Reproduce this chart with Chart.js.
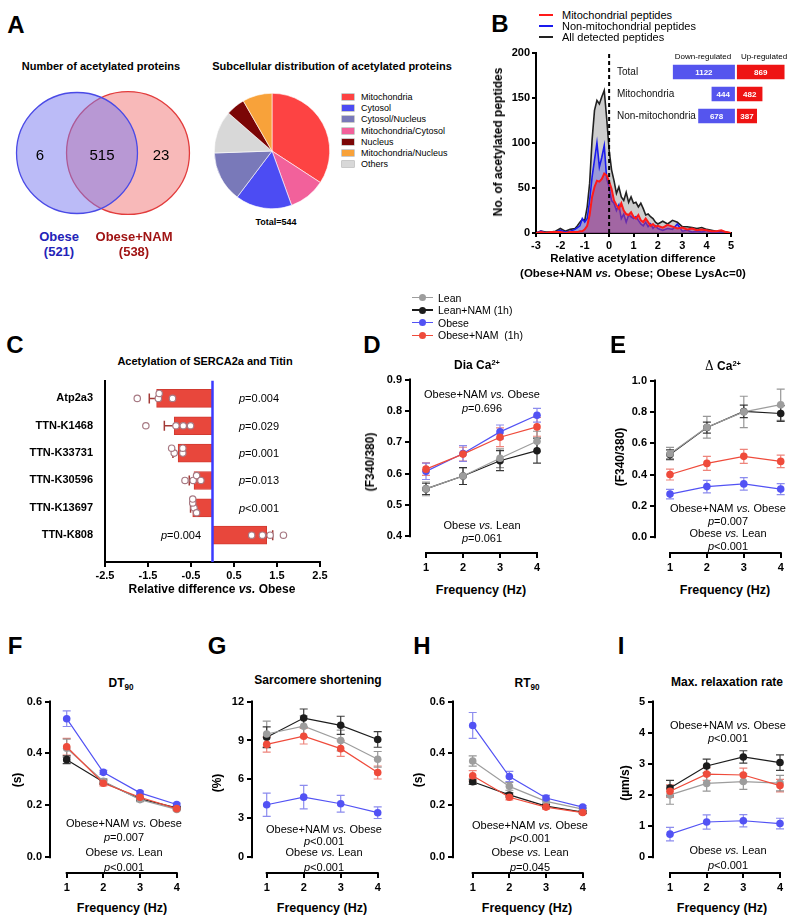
<!DOCTYPE html>
<html>
<head>
<meta charset="utf-8">
<script src="https://cdn.jsdelivr.net/npm/chart.js@4.4.1/dist/chart.umd.min.js"></script>
<style>
body { margin:0; background:#fff; }
#fig { position:relative; width:800px; height:921px; overflow:hidden; font-family:'Liberation Sans', Arial, sans-serif; color:#000; }
#fig canvas { position:absolute; }
.t, .tl, .tr { position:absolute; white-space:pre; line-height:1; z-index:2; }
.t { transform:translate(-50%,-50%); }
.tl { transform:translate(0,-50%); }
.tr { transform:translate(-50%,-50%) rotate(-90deg); }
.b { font-weight:bold; }
sup { font-size:0.62em; vertical-align:0.6em; line-height:0; }
sub { font-size:0.68em; vertical-align:-0.35em; line-height:0; }
.letter { font-size:24px; font-weight:bold; }
.ann { font-size:11px; }
.sw { position:absolute; z-index:2; }
</style>
</head>
<body>
<div id="fig"></div>
<script>
// ---------- A ----------
const vennSets = ['Obese', 'Obese+NAM'];
const vennTotals = [521, 538];
const vennOnly = [6, 23];
const vennShared = 515;

// pie, in drawing order (clockwise from 12 o'clock)
const pieLabels = ['Mitochondria', 'Mitochondria/Cytosol', 'Cytosol', 'Cytosol/Nucleus', 'Others', 'Nucleus', 'Mitochondria/Nucleus'];
const pieCounts = [186, 56, 86, 77, 65, 29, 45];
const pieLegend = ['Mitochondria', 'Cytosol', 'Cytosol/Nucleus', 'Mitochondria/Cytosol', 'Nucleus', 'Mitochondria/Nucleus', 'Others'];

// ---------- B ----------
const histX = [-3,-2.8,-2.6,-2.4,-2.2,-2,-1.8,-1.6,-1.4,-1.3,-1.2,-1.1,-1,-0.9,-0.8,-0.7,-0.6,-0.5,-0.4,-0.3,-0.2,-0.1,0,0.1,0.2,0.3,0.4,0.5,0.6,0.7,0.8,0.9,1,1.1,1.2,1.3,1.4,1.5,1.6,1.7,1.8,1.9,2,2.2,2.4,2.6,2.8,3,3.2,3.4,3.6,3.8,4,4.2,4.4,4.6,4.8,5];
const histAll = [0,2,1,1,2,5,2,4,5,8,12,15,14,29,55,103,136,147,143,151,158,127,92,70,58,44,51,40,36,45,34,40,33,34,29,33,27,20,21,18,16,12,10,13,10,14,12,7,7,6,5,6,4,3,2,2,1,0];
const histMito = [0,1,0,1,1,1,0,1,1,1,2,2,4,8,20,40,51,58,57,60,66,64,57,49,36,31,27,33,25,21,20,23,18,16,20,14,12,16,12,8,10,7,8,6,9,7,5,6,4,5,3,4,3,2,2,3,1,0];
const histNonMito = [0,2,0,1,1,3,1,2,4,6,8,16,12,16,36,62,81,100,73,84,97,60,51,36,33,25,31,16,21,12,20,18,16,18,14,10,8,12,7,10,5,8,5,3,5,4,10,2,3,1,2,1,3,0,1,0,0,0];
const histXTicks = [-3,-2,-1,0,1,2,3,4,5];
const histYTicks = [0,50,100,150,200];

const insetRows = ['Total', 'Mitochondria', 'Non-mitochondria'];
const insetDown = [1122, 444, 678];
const insetUp = [869, 482, 387];

// ---------- C ----------
const cLabels = ['Atp2a3', 'TTN-K1468', 'TTN-K33731', 'TTN-K30596', 'TTN-K13697', 'TTN-K808'];
const cMean = [-1.30, -0.89, -0.80, -0.43, -0.46, 1.26];
const cSem = [0.17, 0.23, 0.12, 0.11, 0.05, 0.14];
const cDots = [
  [-1.75, -1.26, -1.24, -0.93],
  [-1.55, -0.85, -0.68, -0.51],
  [-0.89, -0.95, -0.69, -0.69],
  [-0.64, -0.45, -0.37, -0.27],
  [-0.43, -0.46, -0.37, -0.46],
  [0.91, 1.16, 1.34, 1.65]
];
const cPvals = ['0.004', '0.029', '0.001', '0.013', '<0.001', '0.004'];
const cXTicks = [-2.5, -1.5, -0.5, 0.5, 1.5, 2.5];

// ---------- D-I ----------
const freqHz = [1, 2, 3, 4];
const groups = ['Lean', 'Lean+NAM (1h)', 'Obese', 'Obese+NAM  (1h)'];

const diaCa = [[0.551,0.592,0.649,0.703],[0.551,0.592,0.641,0.673],[0.607,0.664,0.733,0.786],[0.614,0.662,0.716,0.749]];
const diaCaSem = [[0.022,0.027,0.030,0.032],[0.018,0.027,0.032,0.040],[0.026,0.025,0.022,0.022],[0.020,0.022,0.030,0.030]];
const diaTicks = [0.4,0.5,0.6,0.7,0.8,0.9];

const deltaCa = [[0.533,0.702,0.800,0.846],[0.528,0.700,0.803,0.790],[0.275,0.323,0.340,0.307],[0.400,0.471,0.516,0.484]];
const deltaCaSem = [[0.04,0.07,0.10,0.10],[0.03,0.035,0.04,0.05],[0.03,0.04,0.04,0.035],[0.035,0.045,0.045,0.04]];
const deltaTicks = [0,0.2,0.4,0.6,0.8,1.0];

const dt90 = [[0.420,0.293,0.222,0.184],[0.376,0.290,0.225,0.190],[0.534,0.327,0.248,0.203],[0.426,0.285,0.231,0.187]];
const dt90Sem = [[0.035,0.010,0.008,0.005],[0.015,0.008,0.006,0.005],[0.030,0.008,0.007,0.005],[0.032,0.010,0.008,0.005]];
const dtTicks = [0,0.2,0.4,0.6];

const sarc = [[9.5,10.1,9.0,7.55],[9.25,10.73,10.17,9.08],[4.04,4.63,4.12,3.43],[8.7,9.33,8.37,6.53]];
const sarcSem = [[1.0,0.8,0.8,0.6],[0.8,0.7,0.7,0.6],[0.9,0.9,0.65,0.45],[0.6,0.6,0.6,0.5]];
const sarcTicks = [0,3,6,9,12];

const rt90 = [[0.371,0.273,0.215,0.185],[0.291,0.240,0.197,0.174],[0.508,0.311,0.228,0.193],[0.314,0.231,0.193,0.172]];
const rt90Sem = [[0.02,0.015,0.008,0.005],[0.01,0.008,0.006,0.005],[0.05,0.02,0.01,0.006],[0.02,0.01,0.008,0.005]];
const rtTicks = [0,0.2,0.4,0.6];

const relax = [[2.00,2.37,2.43,2.38],[2.22,2.93,3.22,3.04],[0.74,1.13,1.17,1.08],[2.12,2.67,2.64,2.30]];
const relaxSem = [[0.3,0.25,0.25,0.25],[0.25,0.22,0.2,0.25],[0.22,0.23,0.2,0.17],[0.2,0.2,0.22,0.2]];
const relaxTicks = [0,1,2,3,4,5];

// ---------- styles ----------
const groupColors = ['#9d9d9d', '#1c1c1c', '#5252f4', '#ef4b3b'];
const groupErrColors = ['rgba(140,140,140,0.9)', 'rgba(40,40,40,0.9)', 'rgba(120,120,235,0.85)', 'rgba(235,110,100,0.85)'];
const pieColors = ['#fd4343', '#f2619b', '#4c4cf3', '#7979b9', '#d8d8d8', '#7b0606', '#f8a23a'];
const FONT = "'Liberation Sans', Arial, sans-serif";
const tickFont = { size: 11, weight: 'bold' };

Chart.defaults.font.family = FONT;
Chart.defaults.color = '#000';
Chart.defaults.animation = false;
Chart.defaults.responsive = false;
Chart.defaults.events = [];
Chart.defaults.plugins.legend.display = false;
Chart.defaults.plugins.tooltip.enabled = false;

const fig = document.getElementById('fig');

function makeCanvas(left, top, w, h) {
  const c = document.createElement('canvas');
  c.width = w; c.height = h;
  c.style.left = left + 'px'; c.style.top = top + 'px';
  c.style.width = w + 'px'; c.style.height = h + 'px';
  fig.appendChild(c);
  return c;
}

function txt(x, y, html, cls, css) {
  const d = document.createElement('div');
  d.className = cls || 't';
  d.innerHTML = html;
  d.style.left = x + 'px';
  d.style.top = y + 'px';
  if (css) d.style.cssText += css;
  fig.appendChild(d);
  return d;
}

function box(left, top, w, h, css) {
  const d = document.createElement('div');
  d.className = 'sw';
  d.style.cssText += 'left:' + left + 'px;top:' + top + 'px;width:' + w + 'px;height:' + h + 'px;' + css;
  fig.appendChild(d);
}

// GraphPad style axes: lines only between first and last tick
const gpAxes = {
  id: 'gpAxes',
  beforeDatasetsDraw(chart) {
    const { ctx, chartArea } = chart;
    const x = chart.scales.x, y = chart.scales.y;
    const yt = y.ticks.map(t => t.value), xt = x.ticks.map(t => t.value);
    ctx.save();
    ctx.strokeStyle = '#000';
    ctx.lineWidth = 2;
    ctx.beginPath();
    ctx.moveTo(chartArea.left, y.getPixelForValue(Math.max(...yt)) - 1);
    ctx.lineTo(chartArea.left, y.getPixelForValue(Math.min(...yt)) + 1);
    ctx.moveTo(x.getPixelForValue(Math.min(...xt)) - 1, chartArea.bottom);
    ctx.lineTo(x.getPixelForValue(Math.max(...xt)) + 1, chartArea.bottom);
    ctx.stroke();
    ctx.restore();
  }
};

const errorBars = {
  id: 'errorBars',
  beforeDatasetsDraw(chart) {
    const ctx = chart.ctx;
    chart.data.datasets.forEach((ds, di) => {
      if (!ds.errs) return;
      const meta = chart.getDatasetMeta(di);
      const ys = chart.scales[meta.yAxisID];
      ctx.save();
      ctx.strokeStyle = ds.errColor;
      ctx.lineWidth = 1.2;
      meta.data.forEach((pt, i) => {
        const v = ds.data[i].y, e = ds.errs[i];
        const top = ys.getPixelForValue(v + e), bot = ys.getPixelForValue(v - e);
        ctx.beginPath();
        ctx.moveTo(pt.x, top); ctx.lineTo(pt.x, bot);
        ctx.moveTo(pt.x - 4, top); ctx.lineTo(pt.x + 4, top);
        ctx.moveTo(pt.x - 4, bot); ctx.lineTo(pt.x + 4, bot);
        ctx.stroke();
      });
      ctx.restore();
    });
  }
};

function linePanel(g, means, sems, ticks, dec) {
  const Wy = 34, Hx = 22, padT = 8, padR = 12;
  const axisX = Math.round(g.axisX), axisY = Math.round(g.axisY);
  const topPx = Math.round(g.topPx), botPx = Math.round(g.botPx);
  const x1 = g.x1, x4 = g.x4;
  const right = Math.round(x4 + 10);
  const tMin = ticks[0], tMax = ticks[ticks.length - 1];
  const ppv = (botPx - topPx) / (tMax - tMin);
  const ppx = (x4 - x1) / 3;
  const cv = makeCanvas(axisX - Wy, topPx - padT, Wy + (right - axisX) + padR, padT + (axisY - topPx) + Hx);
  const tickGrid = { drawOnChartArea: false, drawTicks: true, tickLength: 5, lineWidth: 2, color: '#000' };
  // red drawn on top, then blue, gray, black
  const datasets = [3, 2, 0, 1].map(k => ({
    label: groups[k],
    data: freqHz.map((f, i) => ({ x: f, y: means[k][i] })),
    errs: sems[k],
    errColor: groupErrColors[k],
    borderColor: groupColors[k],
    backgroundColor: groupColors[k],
    borderWidth: 1.2,
    pointRadius: 3.8,
    pointBorderWidth: 0,
    pointBackgroundColor: groupColors[k],
    tension: 0,
    clip: false
  }));
  return new Chart(cv, {
    type: 'line',
    data: { datasets },
    options: {
      layout: { autoPadding: false, padding: { top: padT, right: padR, left: 0, bottom: 0 } },
      scales: {
        x: {
          type: 'linear',
          min: 1 - (x1 - axisX) / ppx,
          max: 4 + (right - x4) / ppx,
          afterBuildTicks: s => { s.ticks = freqHz.map(v => ({ value: v })); },
          afterFit: s => { s.height = Hx; },
          grid: tickGrid,
          border: { display: false },
          ticks: { font: tickFont, padding: 3, autoSkip: false, maxRotation: 0 }
        },
        y: {
          type: 'linear',
          min: tMin - (axisY - botPx) / ppv,
          max: tMax,
          afterBuildTicks: s => { s.ticks = ticks.map(v => ({ value: v })); },
          afterFit: s => { s.width = Wy; },
          grid: tickGrid,
          border: { display: false },
          ticks: { font: tickFont, padding: 3, autoSkip: false, callback: v => v.toFixed(dec) }
        }
      }
    },
    plugins: [gpAxes, errorBars]
  });
}

// ================= A =================
(function () {
  const left = 10, top = 88, w = 190, h = 130;
  const cx0 = 77, gap = 51;
  const xmin = -(cx0 - left) / gap;
  const cv = makeCanvas(left, top, w, h);
  const vennStyle = [
    { bg: 'rgba(120,120,240,0.5)', bd: '#4a4ae6' },
    { bg: 'rgba(240,100,100,0.45)', bd: '#e23c3c' }
  ];
  new Chart(cv, {
    type: 'scatter',
    data: {
      datasets: vennSets.map((s, i) => ({
        label: s,
        data: [{ x: i, y: 0 }],
        pointRadius: 61 * Math.sqrt(vennTotals[i] / 530),
        pointBackgroundColor: vennStyle[i].bg,
        pointBorderColor: vennStyle[i].bd,
        pointBorderWidth: 1.3,
        clip: false
      }))
    },
    options: {
      layout: { autoPadding: false, padding: 0 },
      scales: {
        x: { display: false, min: xmin, max: xmin + w / gap },
        y: { display: false, min: -1, max: 1 }
      }
    }
  });

  const pv = makeCanvas(214, 93, 116, 116);
  new Chart(pv, {
    type: 'pie',
    data: { labels: pieLabels, datasets: [{ data: pieCounts, backgroundColor: pieColors, borderColor: '#fff', borderWidth: 0.6 }] },
    options: { layout: { padding: 0 } }
  });
})();

txt(16, 25, 'A', 't letter');
txt(101, 66, 'Number of acetylated proteins', 't b', 'font-size:11px');
txt(332, 66, 'Subcellular distribution of acetylated proteins', 't b', 'font-size:11px');
txt(40, 154, String(vennOnly[0]), 't', 'font-size:15px');
txt(102, 154, String(vennShared), 't', 'font-size:15px');
txt(161, 154, String(vennOnly[1]), 't', 'font-size:15px');
txt(59, 236, vennSets[0], 't b', 'font-size:13px;color:#2323b8');
txt(59, 251, '(' + vennTotals[0] + ')', 't b', 'font-size:13px;color:#2323b8');
txt(134, 236, vennSets[1], 't b', 'font-size:13px;color:#a01414');
txt(134, 251, '(' + vennTotals[1] + ')', 't b', 'font-size:13px;color:#a01414');
txt(276, 222, 'Total=' + pieCounts.reduce((a, b) => a + b, 0), 't b', 'font-size:9px');
pieLegend.forEach((name, k) => {
  const y = 97 + k * 11.2;
  const col = pieColors[pieLabels.indexOf(name)];
  box(342, y - 3, 12, 6, 'background:' + col + ';box-shadow:0 0 0 0.6px rgba(0,0,0,0.35);');
  txt(361, y, name, 'tl', 'font-size:9px');
});

// ================= B =================
(function () {
  const left = 500, top = 44, Wy = 36, Hx = 22;
  const cv = makeCanvas(left, top, 243, 211);
  const pts = arr => histX.map((x, i) => ({ x, y: arr[i] }));
  const axisGrid = { drawOnChartArea: false, drawTicks: true, tickLength: 4, lineWidth: 2, color: '#000' };
  new Chart(cv, {
    type: 'line',
    data: {
      datasets: [
        { label: 'zero', data: [{ x: 0, y: histYTicks[0] }, { x: 0, y: histYTicks[histYTicks.length - 1] }], borderColor: '#000', borderWidth: 2, borderDash: [4, 3], pointRadius: 0, fill: false },
        { label: 'Mitochondrial peptides', data: pts(histMito), borderColor: '#ff1a1a', borderWidth: 2, backgroundColor: 'rgba(170,60,120,0.55)', fill: 'origin', pointRadius: 0, tension: 0 },
        { label: 'Non-mitochondrial peptides', data: pts(histNonMito), borderColor: '#1a1aee', borderWidth: 1.6, backgroundColor: 'rgba(90,90,230,0.45)', fill: 'origin', pointRadius: 0, tension: 0 },
        { label: 'All detected peptides', data: pts(histAll), borderColor: '#222', borderWidth: 1.6, backgroundColor: 'rgba(165,165,165,0.55)', fill: 'origin', pointRadius: 0, tension: 0 }
      ]
    },
    options: {
      layout: { autoPadding: false, padding: { top: 8, right: 12, left: 0, bottom: 0 } },
      scales: {
        x: {
          type: 'linear', min: -3, max: 5,
          afterBuildTicks: s => { s.ticks = histXTicks.map(v => ({ value: v })); },
          afterFit: s => { s.height = Hx; },
          grid: axisGrid, border: { display: true, width: 2, color: '#000' },
          ticks: { font: tickFont, padding: 2, autoSkip: false, maxRotation: 0 }
        },
        y: {
          type: 'linear', min: 0, max: 200,
          afterBuildTicks: s => { s.ticks = histYTicks.map(v => ({ value: v })); },
          afterFit: s => { s.width = Wy; },
          grid: axisGrid, border: { display: true, width: 2, color: '#000' },
          ticks: { font: tickFont, padding: 2, autoSkip: false }
        }
      }
    }
  });

  // inset: down / up regulated counts
  const insetValues = {
    id: 'insetValues',
    afterDatasetsDraw(chart) {
      const ctx = chart.ctx;
      ctx.save();
      ctx.fillStyle = '#fff';
      ctx.font = "bold 8px " + FONT;
      ctx.textAlign = 'center';
      ctx.textBaseline = 'middle';
      chart.data.datasets.forEach((ds, di) => {
        chart.getDatasetMeta(di).data.forEach((bar, i) => {
          ctx.fillText(String(ds.counts[i]), (bar.x + bar.base) / 2, bar.y + 0.5);
        });
      });
      ctx.restore();
    }
  };
  const iTop = 61;
  const iv = makeCanvas(660, iTop, 135, 66);
  const inset = new Chart(iv, {
    type: 'bar',
    data: {
      labels: insetRows,
      datasets: [
        { label: 'Down-regulated', data: insetDown.map(v => -v), counts: insetDown, backgroundColor: '#5555ee', borderColor: '#fff', borderWidth: 1, borderSkipped: false, categoryPercentage: 1, barPercentage: 0.74 },
        { label: 'Up-regulated', data: insetUp, counts: insetUp, backgroundColor: '#ee1313', borderColor: '#fff', borderWidth: 1, borderSkipped: false, categoryPercentage: 1, barPercentage: 0.74 }
      ]
    },
    options: {
      indexAxis: 'y',
      layout: { autoPadding: false, padding: 0 },
      scales: {
        x: { display: false, stacked: true, min: -1330, max: 1035 },
        y: { display: false, stacked: true }
      }
    },
    plugins: [insetValues]
  });
  // row names, left aligned, placed with the inset's own category scale
  insetRows.forEach((r, i) => {
    txt(617, iTop + inset.scales.y.getPixelForValue(i), r, 'tl', 'font-size:10px;color:#111');
  });
})();

txt(500, 24, 'B', 't letter');
[['#ff1a1a', 'Mitochondrial peptides'], ['#1a1aee', 'Non-mitochondrial peptides'], ['#222', 'All detected peptides']].forEach((it, k) => {
  const y = 15 + k * 11;
  box(539, y - 1.2, 14, 2.4, 'background:' + it[0] + ';');
  txt(562, y, it[1], 'tl', 'font-size:11px');
});
txt(703, 57, 'Down-regulated', 't', 'font-size:8px');
txt(764, 57, 'Up-regulated', 't', 'font-size:8px');
txt(498, 142, 'No. of acetylated peptides', 'tr b', 'font-size:12px');
txt(633, 259, 'Relative acetylation difference', 't b', 'font-size:11.5px');
txt(633, 274, '(Obese+NAM <i>vs.</i> Obese; Obese LysAc=0)', 't b', 'font-size:11.5px');

// ================= C =================
function jitter(vals) {
  const placed = [];
  const slots = [0, -0.18, 0.18, -0.32, 0.32];
  return vals.map(v => {
    for (const s of slots) {
      if (!placed.some(p => p.s === s && Math.abs(p.v - v) < 0.13)) { placed.push({ v, s }); return s; }
    }
    return 0;
  });
}

const cErr = {
  id: 'cErr',
  afterDatasetDraw(chart, args) {
    const ds = chart.data.datasets[args.index];
    if (!ds.errs) return;
    const ctx = chart.ctx, xs = chart.scales.x;
    ctx.save();
    ctx.strokeStyle = '#a33a36';
    ctx.lineWidth = 1.5;
    args.meta.data.forEach((bar, i) => {
      const m = ds.data[i].x, e = ds.errs[i] * Math.sign(m);
      const a = xs.getPixelForValue(m), b = xs.getPixelForValue(m + e);
      ctx.beginPath();
      ctx.moveTo(a, bar.y); ctx.lineTo(b, bar.y);
      ctx.moveTo(b, bar.y - 5); ctx.lineTo(b, bar.y + 5);
      ctx.stroke();
    });
    ctx.restore();
  }
};

const cTop = 370, cYMin = -0.65, cYMax = 5.98;
const cChart = (function () {
  const cv = makeCanvas(0, cTop, 332, 214);
  const dotPts = [];
  cDots.forEach((row, i) => {
    const off = jitter(row);
    row.forEach((v, j) => dotPts.push({ x: v, y: i + off[j] }));
  });
  const axGrid = { drawOnChartArea: false, drawTicks: true, tickLength: 5, lineWidth: 2, color: '#000' };
  return new Chart(cv, {
    type: 'bar',
    data: {
      datasets: [
        { type: 'scatter', label: 'animals', data: dotPts, pointRadius: 3.2, pointBackgroundColor: '#fff', pointBorderColor: '#a77a84', pointBorderWidth: 1.2 },
        { type: 'line', label: 'zero', data: [{ x: 0, y: cYMin }, { x: 0, y: cYMax }], borderColor: '#3b3bff', borderWidth: 2.5, pointRadius: 0 },
        { type: 'bar', label: 'mean', data: cMean.map((v, i) => ({ x: v, y: i })), errs: cSem, backgroundColor: '#e8473c', borderColor: '#d23a30', borderWidth: 1, barThickness: 18 }
      ]
    },
    options: {
      indexAxis: 'y',
      layout: { autoPadding: false, padding: { top: 2, right: 12, left: 0, bottom: 0 } },
      scales: {
        x: {
          type: 'linear', min: -2.5, max: 2.5,
          afterBuildTicks: s => { s.ticks = cXTicks.map(v => ({ value: v })); },
          afterFit: s => { s.height = 22; },
          grid: axGrid, border: { display: true, width: 2, color: '#000' },
          ticks: { font: tickFont, padding: 2, autoSkip: false, maxRotation: 0, callback: v => v.toFixed(1) }
        },
        y: {
          type: 'linear', reverse: true, min: cYMin, max: cYMax, offset: false,
          afterBuildTicks: s => { s.ticks = cLabels.map((_, i) => ({ value: i })); },
          afterFit: s => { s.width = 105; },
          grid: { display: false, offset: false }, border: { display: true, width: 2, color: '#000' },
          ticks: { font: tickFont, padding: 4, autoSkip: false, callback: v => cLabels[v] }
        }
      }
    },
    plugins: [cErr]
  });
})();

txt(15, 345, 'C', 't letter');
txt(205, 361, 'Acetylation of SERCA2a and Titin', 't b', 'font-size:11px');
cPvals.forEach((p, i) => {
  const y = cTop + cChart.scales.y.getPixelForValue(i);
  const x = cMean[i] < 0 ? 259 : 181;
  txt(x, y, '<i>p</i>' + (p[0] === '<' ? '&lt;' + p.slice(1) : '=' + p), 't ann');
});
txt(212, 589, 'Relative difference <i>vs.</i> Obese', 't b', 'font-size:12px');

// ================= D - I =================
linePanel({ axisX: 410, x1: 426, x4: 537, axisY: 553, topPx: 378, botPx: 536 }, diaCa, diaCaSem, diaTicks, 1);
linePanel({ axisX: 655, x1: 670, x4: 780.7, axisY: 553, topPx: 379, botPx: 537 }, deltaCa, deltaCaSem, deltaTicks, 1);
linePanel({ axisX: 50, x1: 66.7, x4: 176.7, axisY: 873, topPx: 700, botPx: 857 }, dt90, dt90Sem, dtTicks, 1);
linePanel({ axisX: 252, x1: 266.7, x4: 377.7, axisY: 873, topPx: 700, botPx: 857 }, sarc, sarcSem, sarcTicks, 0);
linePanel({ axisX: 453, x1: 472.7, x4: 582.7, axisY: 873, topPx: 700, botPx: 857 }, rt90, rt90Sem, rtTicks, 1);
linePanel({ axisX: 653, x1: 670, x4: 780, axisY: 873, topPx: 700, botPx: 857 }, relax, relaxSem, relaxTicks, 0);

// shared legend above D
groups.forEach((g, k) => {
  const y = 297.5 + k * 12.6;
  box(412, y - 0.75, 21, 1.5, 'background:' + groupColors[k] + ';');
  box(418.5, y - 3.5, 7, 7, 'background:' + groupColors[k] + ';border-radius:50%;');
  txt(438, y, g, 'tl', 'font-size:10.5px');
});

txt(372, 345, 'D', 't letter');
txt(618, 345, 'E', 't letter');
txt(15, 646, 'F', 't letter');
txt(217, 646, 'G', 't letter');
txt(422, 646, 'H', 't letter');
txt(621, 646, 'I', 't letter');

txt(477, 365, 'Dia Ca<sup>2+</sup>', 't b', 'font-size:12px');
txt(723, 366, '<span style="font-family:\'DejaVu Serif\',\'Liberation Serif\',serif;font-weight:normal">\u0394</span> Ca<sup>2+</sup>', 't b', 'font-size:12px');
txt(121, 683, 'DT<sub>90</sub>', 't b', 'font-size:12px');
txt(318, 680, 'Sarcomere shortening', 't b', 'font-size:12px');
txt(527, 683, 'RT<sub>90</sub>', 't b', 'font-size:12px');
txt(727, 682, 'Max. relaxation rate', 't b', 'font-size:12px');

txt(370, 462, '(F340/380)', 'tr b', 'font-size:12px');
txt(620, 457, '(F340/380)', 'tr b', 'font-size:12px');
txt(17, 780, '(s)', 'tr b', 'font-size:12px');
txt(217, 783, '(%)', 'tr b', 'font-size:12px');
txt(418, 780, '(s)', 'tr b', 'font-size:12px');
txt(625, 783, '(\u00b5m/s)', 'tr b', 'font-size:12px');

[[481, 590], [725, 590], [122, 908], [322, 908], [527, 908], [722, 908]].forEach(p => {
  txt(p[0], p[1], 'Frequency (Hz)', 't b', 'font-size:12.5px');
});

const vsNam = 'Obese+NAM <i>vs.</i> Obese', vsLean = 'Obese <i>vs.</i> Lean';
[
  [482, 394, vsNam], [482, 408, '<i>p</i>=0.696'], [482, 525, vsLean], [482, 538, '<i>p</i>=0.061'],
  [728, 508, vsNam], [728, 521, '<i>p</i>=0.007'], [728, 533, vsLean], [728, 546, '<i>p</i>&lt;0.001'],
  [124, 823, vsNam], [124, 837, '<i>p</i>=0.007'], [124, 852, vsLean], [124, 867, '<i>p</i>&lt;0.001'],
  [324, 829, vsNam], [324, 841, '<i>p</i>&lt;0.001'], [324, 852, vsLean], [324, 867, '<i>p</i>&lt;0.001'],
  [530, 825, vsNam], [530, 838, '<i>p</i>&lt;0.001'], [530, 852, vsLean], [530, 867, '<i>p</i>=0.045'],
  [728, 725, vsNam], [728, 738, '<i>p</i>&lt;0.001'], [728, 850, vsLean], [728, 865, '<i>p</i>&lt;0.001']
].forEach(a => txt(a[0], a[1], a[2], 't ann'));
</script>
</body>
</html>
